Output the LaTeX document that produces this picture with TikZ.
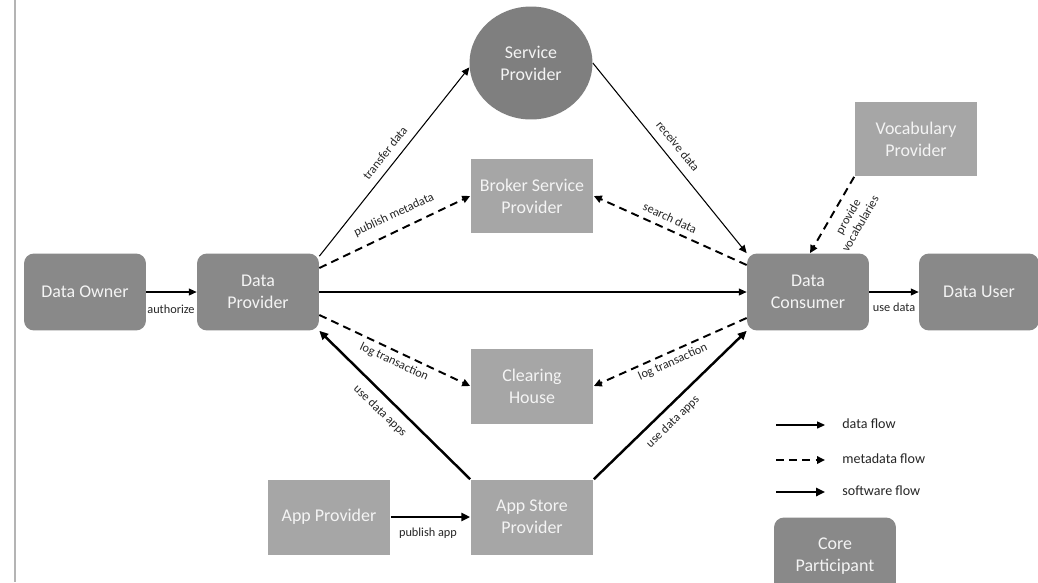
\documentclass[tikz,border=0pt]{standalone}
\usepackage{fontspec}
\setmainfont{Carlito}
\usetikzlibrary{arrows.meta,shapes.geometric,calc}
\definecolor{coregray}{HTML}{898989}
\definecolor{circgray}{HTML}{7F7F7F}
\definecolor{rolegray}{HTML}{A6A6A6}
\definecolor{boxtext}{HTML}{F4F4F4}
\definecolor{labeltext}{HTML}{262626}
\definecolor{edgegray}{HTML}{B4B4B4}
\begin{document}
\begin{tikzpicture}[x=0.02cm,y=-0.02cm,
  boxbase/.style={align=center, inner sep=0pt, text=boxtext,
    font=\fontsize{10.2}{12.5}\selectfont},
  core/.style={boxbase, rounded corners=0.2cm, fill=coregray,
    minimum width=2.44cm, minimum height=1.54cm},
  role/.style={boxbase, fill=rolegray,
    minimum width=2.46cm, minimum height=1.5cm},
  hub/.style={boxbase, ellipse, fill=circgray,
    minimum width=2.46cm, minimum height=2.26cm},
  lbl/.style={font=\fontsize{7}{8}\selectfont, text=labeltext,
    inner sep=0pt, align=center},
  legtext/.style={font=\fontsize{8}{9.6}\selectfont, text=labeltext,
    inner sep=0pt, anchor=west},
  dataflow/.style={-{Triangle[length=4.5pt,width=4pt]}, line width=0.6pt},
  metaflow/.style={-{Triangle[length=4.5pt,width=4.2pt]}, line width=1.1pt,
    dash pattern=on 4.5pt off 3pt},
  swflow/.style={-{Triangle[length=5pt,width=4.6pt]}, line width=1.4pt}]

\useasboundingbox (0,0) rectangle (1038,582);
\fill[white] (0,0) rectangle (1038,582);
\draw[edgegray, line width=0.6pt] (15,0) -- (15,582);

% participants
\node[core] (do)  at (85,292)  {Data Owner};
\node[core] (dp)  at (258,292) {Data\\Provider};
\node[core] (dc)  at (808,292) {Data\\Consumer};
\node[core, minimum width=2.4cm] (du) at (979,292) {Data User};
\node[hub]  (sp)  at (531,63)  {Service\\Provider};
\node[role] (bsp) at (532,196) {Broker Service\\Provider};
\node[role] (ch)  at (532,386) {Clearing\\House};
\node[role] (vp)  at (916,139) {Vocabulary\\Provider};
\node[role] (ap)  at (329,517) {App Provider};
\node[role] (asp) at (532,517) {App Store\\Provider};

% data flows
\draw[dataflow] (do.east) -- (dp.west);
\draw[dataflow] (dp.east) -- (dc.west);
\draw[dataflow] (dc.east) -- (du.west);
\draw[dataflow] ($(dp.north east)+(0,3)$) -- (sp.184);
\draw[dataflow] (sp.east) -- (dc.north west);

% metadata flows
\draw[metaflow] ($(dp.east)+(0,-24)$) -- (bsp.west);
\draw[metaflow] ($(dc.west)+(0,-27)$) -- (bsp.east);
\draw[metaflow] ($(dp.east)+(0,23)$) -- (ch.west);
\draw[metaflow] ($(dc.west)+(0,26)$) -- (ch.east);
\draw[metaflow] (vp.south west) -- ($(dc.north)+(2,0)$);

% software flows
\draw[swflow] (ap.east) -- (asp.west);
\draw[swflow] (asp.north west) -- (dp.south east);
\draw[swflow] (asp.north east) -- (dc.south west);

% edge labels
\node[lbl] (l1)  at (171,309) {authorize};
\node[lbl] (l2)  at (894,307) {use data};
\node[lbl] (l3)  at (428,533) {publish app};
\node[lbl, rotate=52]  (l4)  at (385,153) {transfer data};
\node[lbl, rotate=25]  (l5)  at (394,215) {publish metadata};
\node[lbl, rotate=-25] (l6)  at (394,362) {log transaction};
\node[lbl, rotate=-51] (l7)  at (678,146) {receive data};
\node[lbl, rotate=-25] (l8)  at (670,218) {search data};
\node[lbl, rotate=24]  (l9)  at (673,362) {log transaction};
\node[lbl, rotate=-44] (l10) at (380,411) {use data apps};
\node[lbl, rotate=44]  (l11) at (673,422) {use data apps};
\node[lbl, rotate=60]  (l12) at (854,220) {provide\\vocabularies};

% legend
\coordinate (k1a) at (776,425); \coordinate (k1b) at (825,425);
\coordinate (k2a) at (776,460); \coordinate (k2b) at (825,460);
\coordinate (k3a) at (776,492); \coordinate (k3b) at (825,492);
\draw[dataflow] (k1a) -- (k1b);
\draw[metaflow] (k2a) -- (k2b);
\draw[swflow]   (k3a) -- (k3b);
\node[legtext] (t1) at (842,424) {data flow};
\node[legtext] (t2) at (842,459) {metadata flow};
\node[legtext] (t3) at (842,491) {software flow};
\node[core] (cp) at (835,556) {Core\\Participant};
\end{tikzpicture}
\end{document}
